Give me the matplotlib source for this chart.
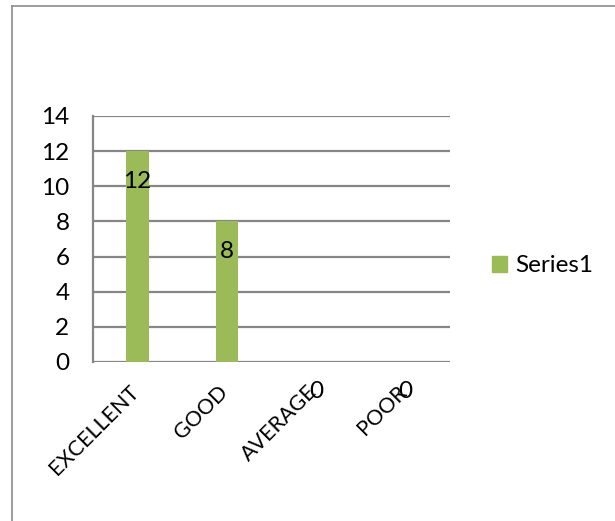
import matplotlib
matplotlib.use("Agg")
import matplotlib.pyplot as plt
import matplotlib.transforms as mtransforms
from matplotlib.lines import Line2D
from matplotlib.patches import Patch

categories = ["EXCELLENT", "GOOD", "AVERAGE", "POOR"]
values = [12, 8, 0, 0]
series_name = "Series1"
y_ticks = [0, 2, 4, 6, 8, 10, 12, 14]

GREEN = "#9bbb59"
GRID = "#868686"
FONT = "Lato"
FS = 17.5

W, H = 615, 521
fig = plt.figure(figsize=(W / 100, H / 100), dpi=100)

# chart-area frame (left and top edges only are visible in the crop)
fig.add_artist(Line2D([12 / W, 12 / W], [0, 1 - 6 / H], color="#8c8c8c", lw=1.2))
fig.add_artist(Line2D([12 / W, 1], [1 - 6 / H, 1 - 6 / H], color="#8c8c8c", lw=1.2))

ax = fig.add_axes([93 / W, (H - 362) / H, 357 / W, 246 / H])
x = range(len(categories))
ax.bar(x, values, width=0.25, color=GREEN, zorder=3)

ax.set_xlim(-0.5, len(categories) - 0.5)
ax.set_ylim(0, 14)
ax.set_yticks(y_ticks)
ax.yaxis.grid(True, color=GRID, lw=1.6, zorder=0)
ax.set_axisbelow(True)
for s in ["top", "right", "bottom"]:
    ax.spines[s].set_visible(False)
ax.spines["left"].set_color(GRID)
ax.spines["left"].set_linewidth(1.6)

ax.tick_params(axis="y", length=0, pad=17, labelsize=FS)
ax.set_yticklabels([str(t) for t in y_ticks], fontfamily=FONT)
ax.tick_params(axis="x", length=0, pad=14)
ax.set_xticks(list(x))
ax.set_xticklabels(categories, rotation=45, ha="right", rotation_mode="anchor",
                   fontsize=15.5, fontfamily=FONT)
shift = mtransforms.ScaledTranslation(-9 / 100, 0, fig.dpi_scale_trans)
for lab in ax.get_xticklabels():
    lab.set_transform(lab.get_transform() + shift)

for xi, v in zip(x, values):
    ax.annotate(str(v), (xi, v), xytext=(0, -30), textcoords="offset pixels",
                ha="center", va="center", fontsize=FS, fontfamily=FONT, zorder=4)

fig.legend(handles=[Patch(color=GREEN, label=series_name)],
           loc="center left", bbox_to_anchor=(470 / W, 1 - 266 / H),
           frameon=False, handlelength=0.62, handleheight=0.62,
           handletextpad=0.35, prop={"family": FONT, "size": FS})

fig.savefig("out.png", dpi=100)
